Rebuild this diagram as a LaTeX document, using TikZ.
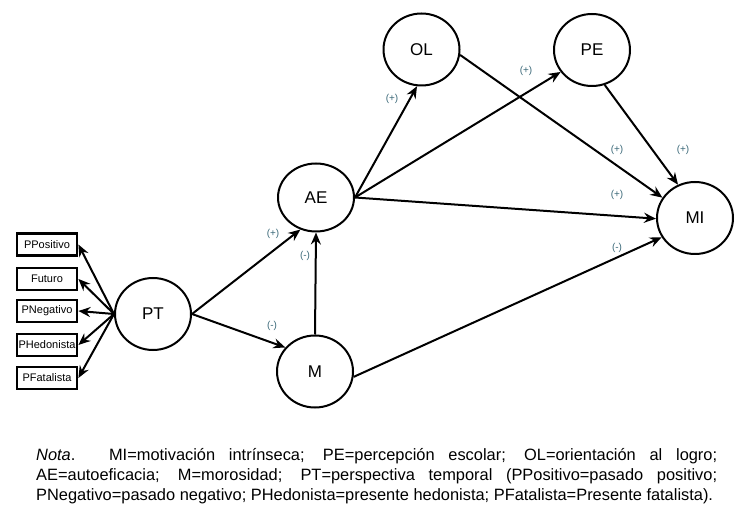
\documentclass[tikz,border=0pt]{standalone}
\usepackage{fontspec}
\setmainfont{Liberation Sans}
\usetikzlibrary{shapes.geometric,arrows.meta}
\definecolor{lblc}{HTML}{3A6878}
\begin{document}
\begin{tikzpicture}[x=1pt,y={(0pt,-1pt)},
  lat/.style={draw, ellipse, line width=2pt, minimum width=76pt, minimum height=72pt, inner sep=0pt, font=\fontsize{17}{19}\selectfont},
  ind/.style={draw, rectangle, line width=2.8pt, minimum width=60pt, minimum height=22pt, inner sep=1pt, font=\fontsize{11}{12}\selectfont},
  arr/.style={line width=2pt, -{Stealth[length=12pt,width=10pt,inset=4pt]}},
  lbl/.style={font=\fontsize{10}{11}\selectfont, text=lblc, inner sep=0pt}]
\useasboundingbox (0,0) rectangle (736,510);
\node[lat] (OL) at (421.5,49.5) {OL};
\node[lat] (PE) at (592,50) {PE};
\node[lat, minimum height=68pt] (AE) at (316,197.5) {AE};
\node[lat] (MI) at (695,218) {MI};
\node[lat] (PT) at (153,314) {PT};
\node[lat] (M) at (315,371.5) {M};
\node[ind] (b1) at (47,244.5) {PPositivo};
\node[ind] (b2) at (47,279) {Futuro};
\node[ind] (b3) at (47,311) {PNegativo};
\node[ind] (b4) at (47,345) {PHedonista};
\node[ind] (b5) at (47,378) {PFatalista};
\foreach \b in {b1,b2,b3,b4,b5} \draw[arr] (PT.west) -- (\b.east);
\draw[arr] (PT.east) -- (AE.244);
\draw[arr] (PT.east) -- (M.141);
\draw[arr] (M.north) -- (AE.south);
\draw[arr] (AE.east) -- (OL.263);
\draw[arr] (AE.east) -- (PE.215);
\draw[arr] (AE.east) -- (MI.181);
\draw[arr] (OL.-8) -- (MI.148);
\draw[arr] (PE.-70) -- (MI.117);
\draw[arr] (M.-8) -- (MI.210);
\node[lbl] (l1) at (273,234) {(+)};
\node[lbl] (l2) at (305,256) {(-)};
\node[lbl] (l3) at (272,326) {(-)};
\node[lbl] (l4) at (392,99) {(+)};
\node[lbl] (l5) at (526,71) {(+)};
\node[lbl] (l6) at (617,150) {(+)};
\node[lbl] (l7) at (683,150) {(+)};
\node[lbl] (l8) at (617,195) {(+)};
\node[lbl] (l9) at (617,248) {(-)};
\node[anchor=north west, inner sep=0pt, text width=681pt, align=justify, font=\fontsize{16.4}{20}\selectfont] (nota) at (36,448) {\textit{Nota}. MI=motivación intrínseca; PE=percepción escolar; OL=orientación al logro;\linebreak AE=autoeficacia; M=morosidad; PT=perspectiva temporal (PPositivo=pasado positivo;\linebreak PNegativo=pasado negativo; PHedonista=presente hedonista; PFatalista=Presente fatalista).};
\end{tikzpicture}
\end{document}
